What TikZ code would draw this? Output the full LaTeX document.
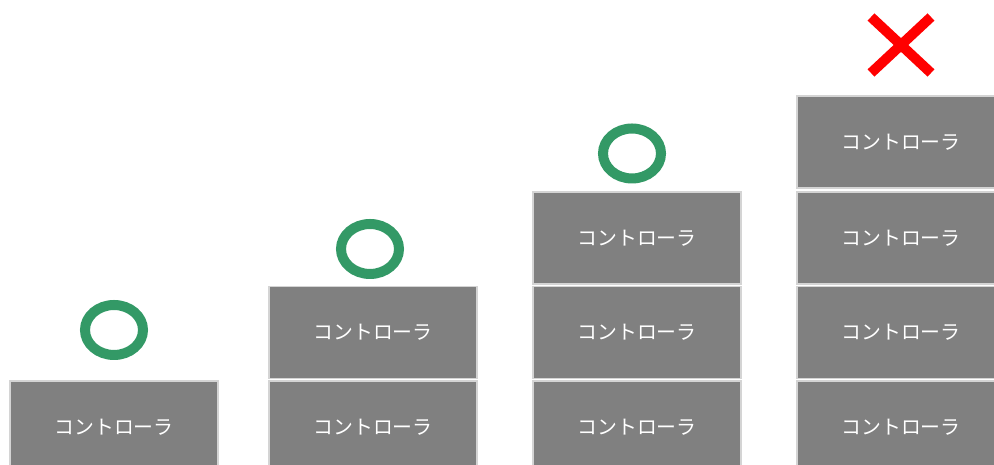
\documentclass[tikz,border=0pt]{standalone}
\usepackage{fontspec}
\newfontfamily\jpfont{Noto Sans CJK JP}
\usetikzlibrary{shapes.geometric}
\definecolor{boxgray}{HTML}{808080}
\definecolor{edgegray}{HTML}{D4D4D4}
\definecolor{okgreen}{HTML}{339966}

\begin{document}
\begin{tikzpicture}[x=0.02cm, y=0.02cm, font=\jpfont\fontsize{11.3}{13}\selectfont,
            ctl/.style={draw=edgegray, line width=0.7pt, fill=boxgray, text=white,
                minimum width=4.16cm, minimum height=1.84cm, inner sep=0pt},
            ok/.style={draw=okgreen, line width=5.7pt, ellipse, minimum width=1.16cm,
                minimum height=1.0cm, inner sep=0pt},
            ng/.style={draw=red, line width=5.7pt}]
            \useasboundingbox (0,0) rectangle (994,465);
            \clip (0,0) rectangle (994,465);
            % one controller
            \node[ctl] (c1a) at (114,38) {コントローラ};
            \node[ok] (ok1) at (114,135) {};
            % two controllers
            \node[ctl] (c2a) at (373,38) {コントローラ};
            \node[ctl] (c2b) at (373,132.5) {コントローラ};
            \node[ok] (ok2) at (370,216) {};
            % three controllers
            \node[ctl] (c3a) at (637,38) {コントローラ};
            \node[ctl] (c3b) at (637,132.5) {コントローラ};
            \node[ctl] (c3c) at (637,227) {コントローラ};
            \node[ok] (ok3) at (632,311.5) {};
            % four controllers
            \node[ctl] (c4a) at (901,38) {コントローラ};
            \node[ctl] (c4b) at (901,132.5) {コントローラ};
            \node[ctl] (c4c) at (901,227) {コントローラ};
            \node[ctl] (c4d) at (901,323) {コントローラ};
            \draw[ng] (871,448) -- (931,392);
            \draw[ng] (871,392) -- (931,448);
        \end{tikzpicture}
\end{document}
